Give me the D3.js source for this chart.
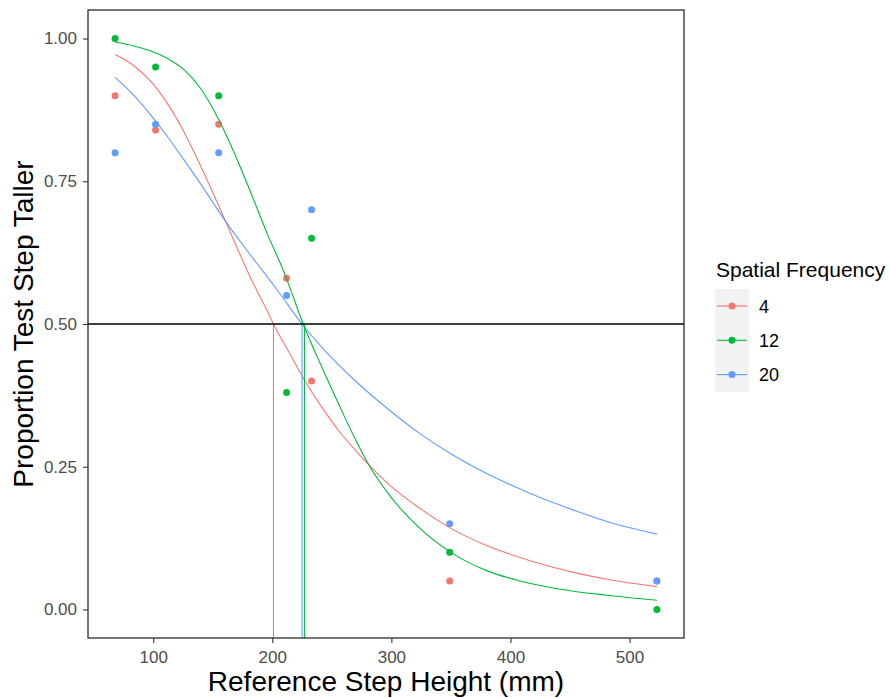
<!DOCTYPE html>
<html>
<head>
<meta charset="utf-8">
<script src="https://cdn.jsdelivr.net/npm/d3@7"></script>
<style>
  body { margin: 0; background: #fff; }
  text { font-family: "Liberation Sans", Arial, sans-serif; }
</style>
</head>
<body>
<svg width="890" height="698"></svg>
<script>
// observed proportions at each reference step height
var heights = [68, 102, 155, 212, 233, 349, 523]
var freqs = ['4', '12', '20']
var colors = ['#F8766D', '#00BA38', '#619CFF']
var obs4 = [0.90, 0.84, 0.85, 0.58, 0.40, 0.05, 0.05]
var obs12 = [1.00, 0.95, 0.90, 0.38, 0.65, 0.10, 0.00]
var obs20 = [0.80, 0.85, 0.80, 0.55, 0.70, 0.15, 0.05]

// fitted curves
var fitX4 = [68, 84, 98, 112, 126, 140, 154, 168, 182, 196, 201, 215, 229, 243, 257, 271, 285, 300, 324, 350, 380, 408, 425, 453, 481, 523]
var fitY4 = [0.972, 0.952, 0.925, 0.886, 0.836, 0.776, 0.712, 0.645, 0.580, 0.522, 0.500, 0.447, 0.395, 0.350, 0.310, 0.276, 0.245, 0.215, 0.177, 0.142, 0.112, 0.091, 0.080, 0.065, 0.053, 0.040]
var fitX12 = [68, 84, 98, 112, 126, 140, 154, 168, 182, 196, 210, 218, 226, 243, 257, 271, 282, 300, 324, 350, 380, 408, 425, 453, 481, 523]
var fitY12 = [0.994, 0.987, 0.978, 0.965, 0.945, 0.912, 0.862, 0.800, 0.730, 0.657, 0.590, 0.545, 0.500, 0.418, 0.354, 0.293, 0.250, 0.196, 0.142, 0.100, 0.068, 0.050, 0.042, 0.032, 0.025, 0.016]
var fitX20 = [68, 84, 98, 112, 126, 140, 159, 182, 204, 225, 243, 271, 299, 324, 352, 380, 408, 425, 453, 481, 523]
var fitY20 = [0.932, 0.900, 0.866, 0.828, 0.787, 0.745, 0.685, 0.620, 0.560, 0.500, 0.456, 0.398, 0.348, 0.308, 0.270, 0.238, 0.211, 0.196, 0.174, 0.154, 0.132]

// height where each curve crosses 0.5
var thresholds = [201, 227, 225]

var xTicks = [100, 200, 300, 400, 500]
var yTicks = [0, 0.25, 0.5, 0.75, 1]

var svg = d3.select('svg')
var pLeft = 88, pRight = 684, pTop = 10, pBottom = 638

var x = d3.scaleLinear().domain([45.25, 545.75]).range([pLeft, pRight])
var y = d3.scaleLinear().domain([-0.05, 1.05]).range([pBottom, pTop])

var observed = [obs4, obs12, obs20]
var fits = [[fitX4, fitY4], [fitX12, fitY12], [fitX20, fitY20]]

var plot = svg.append('g')

// points
observed.forEach(function(vals, i){
    plot.selectAll('.pt' + i)
        .data(vals)
        .enter()
        .append('circle')
        .attr('cx', function(d, j){ return x(heights[j]) })
        .attr('cy', function(d){ return y(d) })
        .attr('r', 3.5)
        .attr('fill', colors[i])
})

// fitted curves
var line = d3.line()
    .x(function(d){ return x(d[0]) })
    .y(function(d){ return y(d[1]) })
    .curve(d3.curveMonotoneX)

fits.forEach(function(f, i){
    plot.append('path')
        .datum(f[0].map(function(v, j){ return [v, f[1][j]] }))
        .attr('d', line)
        .attr('fill', 'none')
        .attr('stroke', colors[i])
        .attr('stroke-width', 1.1)
})

// threshold drop lines
thresholds.forEach(function(t, i){
    plot.append('line')
        .attr('x1', x(t)).attr('x2', x(t))
        .attr('y1', y(0.5)).attr('y2', pBottom)
        .attr('stroke', colors[i])
        .attr('stroke-width', 1.1)
})

plot.append('line')
    .attr('x1', pLeft).attr('x2', pRight)
    .attr('y1', y(0.5)).attr('y2', y(0.5))
    .attr('stroke', 'black')
    .attr('stroke-width', 1.3)

// panel border
svg.append('rect')
    .attr('x', pLeft).attr('y', pTop)
    .attr('width', pRight - pLeft).attr('height', pBottom - pTop)
    .attr('fill', 'none')
    .attr('stroke', '#1a1a1a')
    .attr('stroke-width', 1.2)

// axes
var xAxis = svg.append('g')
    .attr('transform', 'translate(0,' + pBottom + ')')
    .call(d3.axisBottom(x).tickValues(xTicks).tickSize(5).tickPadding(8))
var yAxis = svg.append('g')
    .attr('transform', 'translate(' + pLeft + ',0)')
    .call(d3.axisLeft(y).tickValues(yTicks).tickFormat(d3.format('.2f')).tickSize(5).tickPadding(6))

;[xAxis, yAxis].forEach(function(a){
    a.attr('font-size', 17).attr('font-family', '"Liberation Sans", Arial, sans-serif')
    a.select('.domain').remove()
    a.selectAll('line').attr('stroke', '#333').attr('stroke-width', 1.1)
    a.selectAll('text').attr('fill', '#4D4D4D')
})

// axis titles
svg.append('text')
    .attr('x', (pLeft + pRight) / 2)
    .attr('y', 691)
    .attr('text-anchor', 'middle')
    .style('font-size', '28px')
    .text('Reference Step Height (mm)')

svg.append('text')
    .attr('transform', 'translate(33,' + ((pTop + pBottom) / 2) + ') rotate(-90)')
    .attr('text-anchor', 'middle')
    .style('font-size', '28px')
    .text('Proportion Test Step Taller')

// legend
var legend = svg.append('g').attr('transform', 'translate(715,0)')
legend.append('text')
    .attr('x', 1).attr('y', 277)
    .style('font-size', '21px')
    .text('Spatial Frequency')

var keys = legend.selectAll('.key')
    .data(freqs)
    .enter()
    .append('g')
    .attr('transform', function(d, i){ return 'translate(0,' + (289 + i * 34.3) + ')' })

keys.append('rect')
    .attr('width', 34).attr('height', 34.3)
    .attr('fill', '#F2F2F2')
keys.append('line')
    .attr('x1', 2).attr('x2', 32)
    .attr('y1', 17).attr('y2', 17)
    .attr('stroke', function(d, i){ return colors[i] })
    .attr('stroke-width', 1.1)
keys.append('circle')
    .attr('cx', 17).attr('cy', 17).attr('r', 3.5)
    .attr('fill', function(d, i){ return colors[i] })
keys.append('text')
    .attr('x', 44).attr('y', 23.5)
    .style('font-size', '18px')
    .text(function(d){ return d })
</script>
</body>
</html>
